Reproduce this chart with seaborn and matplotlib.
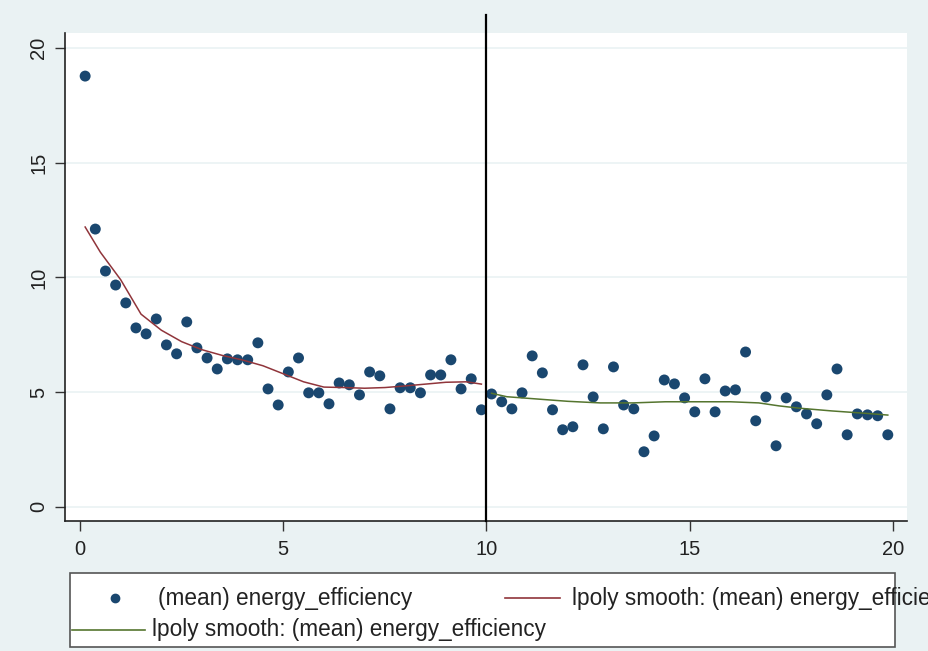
import seaborn as sns
import matplotlib.pyplot as plt
import pandas as pd
import numpy as np
from matplotlib.patches import Rectangle
from matplotlib.lines import Line2D

plt.rcParams["font.family"] = ["Liberation Sans", "DejaVu Sans"]

# ---- data ----
# bin midpoints (0.25 wide bins from 0 to 20)
bins = np.arange(0.125, 20, 0.25)
eff_mean = [18.78, 12.11, 10.28, 9.67, 8.89, 7.80, 7.54, 8.19, 7.06, 6.67,
            8.06, 6.93, 6.49, 6.01, 6.45, 6.41, 6.41, 7.15, 5.14, 4.44,
            5.88, 6.49, 4.97, 4.97, 4.49, 5.40, 5.32, 4.88, 5.88, 5.71,
            4.27, 5.19, 5.19, 4.97, 5.75, 5.75, 6.41, 5.14, 5.58, 4.23,
            4.92, 4.58, 4.27, 4.97, 6.58, 5.84, 4.23, 3.36, 3.49, 6.19,
            4.79, 3.40, 6.10, 4.44, 4.27, 2.40, 3.09, 5.53, 5.36, 4.75,
            4.14, 5.58, 4.14, 5.05, 5.10, 6.75, 3.75, 4.79, 2.66, 4.75,
            4.36, 4.05, 3.62, 4.88, 6.01, 3.14, 4.05, 4.01, 3.97, 3.14]

# lpoly smooth, left of cutoff
left_x = [0.125, 0.5, 1.0, 1.5, 2.0, 2.5, 3.0, 3.5, 4.0, 4.5, 5.0, 5.5,
          6.0, 6.5, 7.0, 7.5, 8.0, 8.5, 9.0, 9.5, 9.875]
left_y = [12.2, 11.1, 9.9, 8.4, 7.7, 7.2, 6.85, 6.6, 6.4, 6.15, 5.8, 5.45,
          5.22, 5.2, 5.17, 5.2, 5.27, 5.35, 5.43, 5.45, 5.35]

# lpoly smooth, right of cutoff
right_x = [10.125, 10.5, 11.25, 12.0, 12.8, 13.6, 14.4, 15.2, 16.0, 16.7,
           17.2, 17.7, 18.5, 19.3, 19.875]
right_y = [4.95, 4.8, 4.7, 4.6, 4.53, 4.53, 4.58, 4.58, 4.58, 4.53,
           4.4, 4.3, 4.18, 4.08, 4.0]

cutoff = 10

bg = "#EAF2F3"
navy = "#1a476f"
maroon = "#90353b"
green = "#55752f"

df = pd.DataFrame({"x": bins, "y": eff_mean})
left = pd.DataFrame({"x": left_x, "y": left_y})
right = pd.DataFrame({"x": right_x, "y": right_y})

fig = plt.figure(figsize=(9.29, 6.51), dpi=100, facecolor=bg)
ax = fig.add_axes([0.070, 0.200, 0.906, 0.749])
ax.set_facecolor("white")

ax.set_yticks([0, 5, 10, 15, 20])
ax.set_xticks([0, 5, 10, 15, 20])
ax.grid(axis="y", color=bg, linewidth=1.2)
ax.set_axisbelow(True)

sns.scatterplot(data=df, x="x", y="y", color=navy, s=62, edgecolor="none",
                ax=ax, zorder=3)
sns.lineplot(data=left, x="x", y="y", color=maroon, linewidth=1.1, ax=ax,
             zorder=4)
sns.lineplot(data=right, x="x", y="y", color=green, linewidth=1.1, ax=ax,
             zorder=4)

ax.set_xlim(-0.37, 20.34)
ax.set_ylim(-0.61, 20.65)
ax.plot([cutoff, cutoff], [0, 1.037], color="black", linewidth=1.6,
        transform=ax.get_xaxis_transform(), clip_on=False, zorder=5)

ax.set_xlabel("")
ax.set_ylabel("")
for side in ["top", "right"]:
    ax.spines[side].set_visible(False)
for side in ["left", "bottom"]:
    ax.spines[side].set_color("#222222")
    ax.spines[side].set_linewidth(1.2)
ax.tick_params(axis="both", direction="out", length=7, width=1,
               color="#333333", labelsize=14.5, labelcolor="#222222")
ax.tick_params(axis="x", pad=7)
ax.tick_params(axis="y", pad=5)
for lab in ax.get_yticklabels():
    lab.set_rotation(90)
    lab.set_va("center")

# ---- legend box drawn below the plot (text runs past the frame,
#      and off the right edge, as in the original export) ----
fig.patches.append(Rectangle((0.0753, 0.0061), 0.888, 0.1137,
                             transform=fig.transFigure, facecolor="white",
                             edgecolor="#555555", linewidth=1.2))
fig.lines.append(Line2D([0.1238], [0.0814], marker="o", markersize=6,
                        color=navy, linestyle="none",
                        transform=fig.transFigure))
fig.text(0.170, 0.0814, "(mean) energy_efficiency", fontsize=16.3,
         va="center", color="#222222")
fig.lines.append(Line2D([0.5436, 0.6028], [0.0814, 0.0814], color=maroon,
                        linewidth=1.2, transform=fig.transFigure))
fig.text(0.6157, 0.0814, "lpoly smooth: (mean) energy_efficiency",
         fontsize=16.3, va="center", color="#222222")
fig.lines.append(Line2D([0.0775, 0.156], [0.0330, 0.0330], color=green,
                        linewidth=1.2, transform=fig.transFigure))
fig.text(0.1636, 0.0330, "lpoly smooth: (mean) energy_efficiency",
         fontsize=16.3, va="center", color="#222222")

fig.savefig("out.png", dpi=100, facecolor=bg)
